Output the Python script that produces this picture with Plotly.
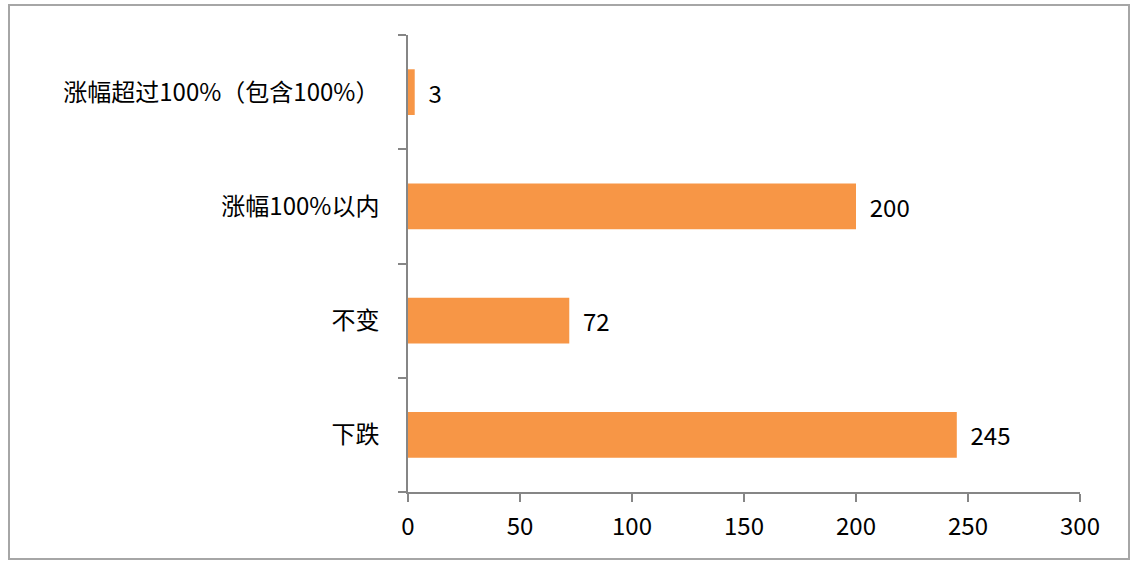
import plotly.graph_objects as go

categories = ["下跌", "不变", "涨幅100%以内", "涨幅超过100%（包含100%）"]
values = [245, 72, 200, 3]
x_ticks = [0, 50, 100, 150, 200, 250, 300]

W, H = 1136, 567
L, R, T, B = 408, 56, 35, 75
pw, ph = W - L - R, H - T - B

font = dict(family="Noto Sans CJK SC, Microsoft YaHei, sans-serif", size=24, color="#000000")
axis_color = "#868686"

fig = go.Figure(go.Bar(
    x=values, y=categories, orientation="h",
    marker=dict(color="#F79646", line=dict(width=0)),
    width=0.4,
    text=values, texttemplate="  %{x}", textposition="outside",
    textfont=font, cliponaxis=False,
))

fig.update_layout(
    width=W, height=H,
    margin=dict(l=L, r=R, t=T, b=B),
    paper_bgcolor="white", plot_bgcolor="white",
    font=font, showlegend=False,
    xaxis=dict(range=[0, 300], tickvals=x_ticks, showgrid=False, zeroline=False,
               showline=True, linecolor=axis_color, linewidth=1.5,
               ticks="outside", ticklen=8, tickcolor=axis_color, tickwidth=1.5,
               tickfont=font, ticklabelstandoff=4),
    yaxis=dict(type="category", categoryorder="array", categoryarray=categories,
               showgrid=False, zeroline=False, showline=True, linecolor=axis_color,
               linewidth=1.5, ticks="outside", ticklen=8, tickcolor=axis_color,
               tickwidth=1.5, tickson="boundaries", tickfont=font, ticklabelstandoff=22),
    shapes=[dict(type="rect", xref="paper", yref="paper",
                 x0=(9 - L) / pw, x1=(1129 - L) / pw,
                 y0=(H - B - 559) / ph, y1=(H - B - 5) / ph,
                 line=dict(color="#A6A6A6", width=2), fillcolor="rgba(0,0,0,0)", layer="below")],
)

fig.write_html("out.html", config={"displayModeBar": False},
               post_script="document.body.style.margin='0';")
